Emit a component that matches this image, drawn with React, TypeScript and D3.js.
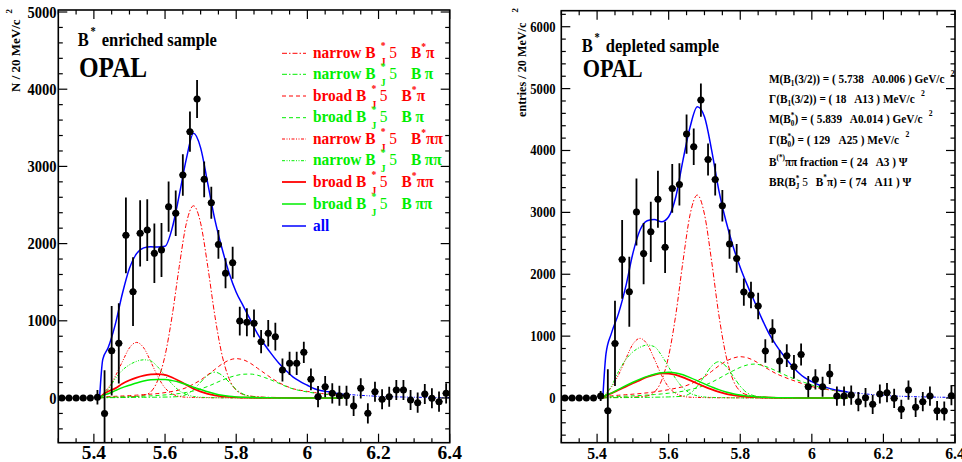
import React from "react";
import * as d3 from "d3";

// bin centres (20 MeV bins)
const binCentres = [
  5.31, 5.33, 5.35, 5.37, 5.39, 5.41, 5.43, 5.45, 5.47, 5.49,
  5.51, 5.53, 5.55, 5.57, 5.59, 5.61, 5.63, 5.65, 5.67, 5.69,
  5.71, 5.73, 5.75, 5.77, 5.79, 5.81, 5.83, 5.85, 5.87, 5.89,
  5.91, 5.93, 5.95, 5.97, 5.99, 6.01, 6.03, 6.05, 6.07, 6.09,
  6.11, 6.13, 6.15, 6.17, 6.19, 6.21, 6.23, 6.25, 6.27, 6.29,
  6.31, 6.33, 6.35, 6.37, 6.39,
];

// B* enriched sample
const enrCounts = [
  0, 0, 0, 0, 0, 10, -200, 613, 708, 2107,
  1377, 2133, 2176, 1874, 1917, 2478, 2392, 2889, 3450, 3873,
  2832, 2530, 1990, 1615, 1753, 997, 980, 967, 730, 838,
  794, 363, 449, 449, 592, 242, 17, 147, 60, 30,
  30, -104, 125, -199, 82, -17, 17, 104, 104, -26,
  -60, 52, -4, -47, 60,
];
const enrErrors = [
  0, 0, 0, 0, 0, 95, 560, 580, 520, 490,
  445, 430, 400, 385, 350, 325, 295, 270, 260, 246,
  230, 207, 186, 194, 207, 186, 181, 181, 150, 172,
  180, 150, 150, 150, 138, 140, 138, 138, 130, 130,
  130, 130, 130, 130, 130, 130, 130, 130, 130, 130,
  130, 130, 130, 130, 130,
];

// B* depleted sample
const depCounts = [
  0, 0, 0, 0, 0, 32, -205, 883, 2240, 1716,
  3006, 2334, 2685, 3212, 2435, 3387, 3452, 4265, 4060, 4814,
  3855, 3532, 3107, 2488, 2256, 1712, 1664, 1486, 759, 1082,
  598, 684, 506, 705, 183, 301, 183, 388, 32, 32,
  48, -59, 5, -102, 65, 86, -5, -183, 129, -151,
  -59, 32, -205, -210, 38,
];
const depErrors = [
  0, 0, 0, 0, 0, 80, 668, 690, 635, 565,
  540, 495, 485, 460, 415, 393, 340, 318, 296, 269,
  258, 258, 253, 236, 231, 221, 215, 215, 189, 189,
  177, 183, 189, 178, 172, 162, 162, 161, 155, 155,
  155, 155, 155, 155, 155, 155, 155, 155, 155, 155,
  155, 155, 155, 155, 155,
];

// sample points of the fitted curves
const curveGrid = [
  5.416, 5.425, 5.44, 5.46, 5.48, 5.5, 5.52, 5.54, 5.56, 5.58,
  5.6, 5.62, 5.64, 5.66, 5.68, 5.7, 5.72, 5.74, 5.76, 5.78,
  5.8, 5.82, 5.84, 5.86, 5.88, 5.9, 5.92, 5.94, 5.96, 5.98,
  6.0, 6.02, 6.04, 6.06, 6.08, 6.1,
];
const tailGrid = [6.1, 6.2, 6.3, 6.4];

const enrAll = [0, 500, 650, 950, 1350, 1680, 1870, 1945, 1960, 1955, 1965, 2200, 2630, 3100, 3428, 3240, 2780, 2310, 1940, 1620, 1370, 1190, 1010, 830, 690, 565, 450, 355, 270, 212, 165, 120, 95, 80, 62, 50];
const enrTail = [50, 22, 10, 5];
const enrNarrowBsPi = [0, 5, 8, 10, 12, 15, 20, 35, 80, 235, 550, 1065, 1705, 2265, 2490, 2265, 1705, 1065, 560, 250, 100, 45, 25, 15, 10, 8, 6, 5, 4, 3, 3, 2, 2, 2, 1, 1];
const enrNarrowBPi = [0, 3, 4, 5, 6, 7, 8, 9, 10, 11, 12, 14, 20, 45, 110, 205, 295, 335, 295, 205, 110, 50, 22, 12, 8, 6, 5, 4, 3, 3, 2, 2, 2, 1, 1, 1];
const enrBroadBsPi = [0, 15, 18, 22, 26, 31, 37, 44, 50, 58, 70, 85, 104, 135, 180, 233, 300, 370, 440, 490, 510, 495, 450, 385, 320, 255, 200, 155, 120, 100, 85, 70, 58, 48, 40, 33];
const enrBroadBPi = [0, 8, 10, 12, 14, 17, 20, 24, 28, 33, 40, 48, 58, 72, 92, 118, 150, 190, 230, 265, 292, 308, 310, 295, 265, 230, 190, 150, 118, 95, 78, 64, 52, 43, 36, 30];
const enrNarrowBsPiPi = [0, 50, 130, 280, 470, 650, 720, 650, 470, 275, 130, 55, 20, 10, 7, 5, 4, 3, 3, 2, 2, 2, 1, 1, 1, 1, 1, 1, 0, 0, 0, 0, 0, 0, 0, 0];
const enrNarrowBPiPi = [0, 40, 110, 250, 360, 430, 475, 495, 480, 400, 290, 180, 95, 45, 20, 10, 6, 4, 3, 2, 2, 1, 1, 1, 1, 1, 0, 0, 0, 0, 0, 0, 0, 0, 0, 0];
const enrBroadBsPiPi = [0, 40, 85, 125, 185, 230, 265, 290, 305, 310, 300, 265, 220, 170, 120, 82, 55, 35, 22, 14, 9, 6, 4, 3, 2, 1, 1, 1, 0, 0, 0, 0, 0, 0, 0, 0];
const enrBroadBPiPi = [0, 30, 55, 95, 135, 165, 195, 220, 235, 240, 240, 225, 205, 175, 140, 110, 80, 55, 35, 22, 14, 9, 6, 4, 3, 2, 1, 1, 0, 0, 0, 0, 0, 0, 0, 0];

const depAll = [0, 720, 1045, 1368, 1800, 2337, 2714, 2865, 2886, 2849, 2930, 3253, 3845, 4383, 4706, 4545, 4006, 3360, 2860, 2450, 2110, 1820, 1555, 1287, 1045, 856, 695, 549, 425, 328, 264, 210, 172, 140, 118, 97];
const depTail = [97, 42, 20, 10];
const depNarrowBsPi = [0, 5, 8, 10, 12, 15, 20, 35, 95, 280, 680, 1350, 2210, 2970, 3280, 2970, 2210, 1350, 690, 290, 110, 50, 28, 18, 12, 9, 7, 6, 5, 4, 3, 3, 2, 2, 2, 1];
const depNarrowBPi = [0, 4, 5, 6, 7, 8, 9, 11, 13, 15, 18, 22, 30, 75, 190, 355, 515, 587, 515, 355, 190, 80, 35, 18, 12, 9, 7, 6, 5, 4, 3, 3, 2, 2, 2, 1];
const depBroadBsPi = [0, 25, 35, 45, 53, 62, 72, 84, 98, 115, 135, 158, 183, 225, 280, 345, 430, 520, 595, 645, 668, 650, 600, 530, 460, 395, 345, 300, 260, 220, 185, 160, 140, 122, 105, 90];
const depBroadBPi = [0, 15, 20, 25, 30, 35, 41, 48, 56, 66, 78, 92, 110, 135, 165, 205, 255, 315, 380, 440, 495, 535, 549, 530, 490, 440, 385, 335, 290, 250, 210, 178, 150, 127, 108, 92];
const depNarrowBsPiPi = [0, 65, 175, 375, 630, 870, 964, 870, 630, 370, 175, 75, 27, 13, 9, 7, 5, 4, 4, 3, 3, 2, 2, 1, 1, 1, 1, 1, 0, 0, 0, 0, 0, 0, 0, 0];
const depNarrowBPiPi = [0, 70, 190, 430, 620, 745, 820, 856, 830, 690, 500, 310, 165, 78, 35, 17, 10, 7, 5, 3, 3, 2, 2, 2, 1, 1, 0, 0, 0, 0, 0, 0, 0, 0, 0, 0];
const depBroadBsPiPi = [0, 40, 75, 130, 185, 240, 290, 340, 375, 398, 395, 375, 335, 285, 235, 185, 140, 100, 68, 45, 30, 20, 13, 8, 5, 3, 2, 1, 1, 0, 0, 0, 0, 0, 0, 0];
const depBroadBPiPi = [0, 45, 80, 140, 200, 255, 305, 350, 385, 408, 415, 405, 375, 330, 280, 228, 180, 135, 98, 70, 48, 32, 21, 14, 9, 6, 4, 3, 2, 1, 1, 0, 0, 0, 0, 0];

const RED = "#ff0000";
const GREEN = "#00ee00";
const BLUE = "#0000ff";
const DASH_DOT = "5,2,1.5,2";
const DASH_DOT_DOT = "3,1.5,1,1.5,1,1.5";
const DASHED = "4,3";
const FONT = "'Liberation Serif', 'Times New Roman', serif";

// legend rows / component styles, same order as the curve arrays
const components = [
  { kind: "narrow", star: true, pions: "π", color: RED, dash: DASH_DOT, width: 1 },
  { kind: "narrow", star: false, pions: "π", color: GREEN, dash: DASH_DOT, width: 1 },
  { kind: "broad", star: true, pions: "π", color: RED, dash: DASHED, width: 1 },
  { kind: "broad", star: false, pions: "π", color: GREEN, dash: DASHED, width: 1 },
  { kind: "narrow", star: true, pions: "ππ", color: RED, dash: DASH_DOT_DOT, width: 1 },
  { kind: "narrow", star: false, pions: "ππ", color: GREEN, dash: DASH_DOT_DOT, width: 1 },
  { kind: "broad", star: true, pions: "ππ", color: RED, dash: undefined, width: 1.8 },
  { kind: "broad", star: false, pions: "ππ", color: GREEN, dash: undefined, width: 1.5 },
];
const enrCurves = [enrNarrowBsPi, enrNarrowBPi, enrBroadBsPi, enrBroadBPi, enrNarrowBsPiPi, enrNarrowBPiPi, enrBroadBsPiPi, enrBroadBPiPi];
const depCurves = [depNarrowBsPi, depNarrowBPi, depBroadBsPi, depBroadBPi, depNarrowBsPiPi, depNarrowBPiPi, depBroadBsPiPi, depBroadBPiPi];

const legendY = [53.3, 74.3, 96, 117.7, 139, 160.7, 182, 204, 226];

function T({ x, y, size, sx = 0.87, anchor = "start", weight = "bold", fill = "#000", rotate = 0, children }: any) {
  const tr = `translate(${x},${y})` + (rotate ? ` rotate(${rotate})` : "") + (sx !== 1 ? ` scale(${sx},1)` : "");
  return (
    <text transform={tr} fontSize={size} fontFamily={FONT} fontWeight={weight} textAnchor={anchor} fill={fill} style={{ whiteSpace: "pre" }}>
      {children}
    </text>
  );
}

function Panel({ id, x0, x1, y0, y1, yDomain, counts, errors, curves, all, tail, yFont, yLabelX, xFont, xSx, xBase }: any) {
  const x = d3.scaleLinear().domain([5.3, 6.4]).range([x0, x1]);
  const y = d3.scaleLinear().domain(yDomain).range([y1, y0]);
  const line = d3
    .line<number>()
    .x((_, i) => x(curveGrid[i]))
    .y((v) => y(v))
    .curve(d3.curveMonotoneX);
  const tailLine = d3
    .line<number>()
    .x((_, i) => x(tailGrid[i]))
    .y((v) => y(v))
    .curve(d3.curveMonotoneX);

  const xMajor = x.ticks(5);
  const xMinor = x.ticks(22).filter((t) => !xMajor.some((m) => Math.abs(m - t) < 1e-9));
  const yMajor = y.ticks(6);
  const yMinor = y.ticks(28).filter((t) => !yMajor.includes(t));
  const big = 9;
  const small = 4.5;

  return (
    <g>
      <defs>
        <clipPath id={id}>
          <rect x={x0} y={y0} width={x1 - x0} height={y1 - y0} />
        </clipPath>
      </defs>
      <g clipPath={`url(#${id})`} fill="none">
        {curves.map((vals: number[], k: number) => (
          <path
            key={k}
            d={line(vals) || ""}
            stroke={components[k].color}
            strokeWidth={components[k].width}
            strokeDasharray={components[k].dash}
          />
        ))}
        <path d={line(all) || ""} stroke={BLUE} strokeWidth={1.5} />
        <path d={tailLine(tail) || ""} stroke={BLUE} strokeWidth={1} strokeDasharray={DASH_DOT_DOT} />
        <g stroke="#000" strokeWidth={1.8}>
          {binCentres.map((b, i) => (
            <g key={i}>
              {errors[i] > 0 && <line x1={x(b)} x2={x(b)} y1={y(counts[i] - errors[i])} y2={y(counts[i] + errors[i])} />}
              <line x1={x(b - 0.01)} x2={x(b + 0.01)} y1={y(counts[i])} y2={y(counts[i])} strokeWidth={1.2} />
            </g>
          ))}
        </g>
        {binCentres.map((b, i) => (
          <circle key={i} cx={x(b)} cy={y(counts[i])} r={3.5} fill="#000" />
        ))}
      </g>
      <rect x={x0} y={y0} width={x1 - x0} height={y1 - y0} fill="none" stroke="#000" strokeWidth={1.6} />
      <g stroke="#000" strokeWidth={1.2}>
        {xMajor.concat(xMinor).map((t, i) => {
          const len = i < xMajor.length ? big : small;
          return (
            <g key={"x" + i}>
              <line x1={x(t)} x2={x(t)} y1={y1} y2={y1 - len} />
              <line x1={x(t)} x2={x(t)} y1={y0} y2={y0 + len} />
            </g>
          );
        })}
        {yMajor.concat(yMinor).map((t, i) => {
          const len = i < yMajor.length ? big : small;
          return (
            <g key={"y" + i}>
              <line x1={x0} x2={x0 + len} y1={y(t)} y2={y(t)} />
              <line x1={x1} x2={x1 - len} y1={y(t)} y2={y(t)} />
            </g>
          );
        })}
      </g>
      {xMajor.map((t, i) => (
        <T key={"xl" + i} x={x(t)} y={xBase} size={xFont} sx={xSx} anchor="middle">
          {String(+t.toFixed(1))}
        </T>
      ))}
      {yMajor
        .filter((t) => t >= 0)
        .map((t, i) => (
          <T key={"yl" + i} x={yLabelX} y={y(t) + yFont * 0.34} size={yFont} anchor="end">
            {String(t)}
          </T>
        ))}
    </g>
  );
}

function LegendLabel({ x, y, kind, star, pions, color }: any) {
  return (
    <T x={x} y={y} size={17.5} sx={0.88} fill={color}>
      {kind + " B"}
      <tspan fontSize={11} dx={6} dy={-9}>*</tspan>
      <tspan fontSize={11} dx={-5.5} dy={16}>J</tspan>
      <tspan fontWeight="normal" dx={4} dy={-7}>5</tspan>
      <tspan dx={16}>B</tspan>
      {star ? <tspan fontSize={11} dy={-8}>*</tspan> : null}
      <tspan dx={star ? 0 : 4} dy={star ? 8 : 0}>{pions}</tspan>
    </T>
  );
}

export default function App() {
  return (
    <svg width={962} height={462} style={{ position: "absolute", left: 0, top: 0, background: "#fff" }}>
      <rect width={962} height={462} fill="#fff" />
      <Panel
        id="clipL"
        x0={58.3}
        x1={449.7}
        y0={10}
        y1={442.7}
        yDomain={[-579, 5026]}
        counts={enrCounts}
        errors={enrErrors}
        curves={enrCurves}
        all={enrAll}
        tail={enrTail}
        yFont={16.7}
        yLabelX={56.5}
        xFont={19.5}
        xSx={1}
        xBase={459}
      />
      <Panel
        id="clipR"
        x0={561.3}
        x1={955}
        y0={10.7}
        y1={442.7}
        yDomain={[-722, 6259]}
        counts={depCounts}
        errors={depErrors}
        curves={depCurves}
        all={depAll}
        tail={depTail}
        yFont={14.5}
        yLabelX={555.5}
        xFont={17.5}
        xSx={0.9}
        xBase={458.5}
      />

      {/* axis titles */}
      <T x={20} y={92} size={13} sx={1} rotate={-90}>
        N / 20 MeV/c<tspan fontSize={9} dx={6} dy={-8}>2</tspan>
      </T>
      <T x={526} y={117} size={12.2} sx={1} rotate={-90}>
        entries / 20 MeV/c<tspan fontSize={9} dx={10} dy={-8}>2</tspan>
      </T>

      {/* left titles */}
      <T x={77.7} y={46} size={19}>
        B<tspan fontSize={12} dx={2} dy={-11}>*</tspan>
        <tspan dx={7} dy={11}>enriched sample</tspan>
      </T>
      <T x={79} y={76.7} size={29}>OPAL</T>

      {/* legend */}
      {components.map((c, i) => (
        <g key={i}>
          <line x1={282} x2={306} y1={legendY[i]} y2={legendY[i]} stroke={c.color} strokeWidth={c.width} strokeDasharray={c.dash} />
          <LegendLabel x={313} y={legendY[i] + 4.5} kind={c.kind} star={c.star} pions={c.pions} color={c.color} />
        </g>
      ))}
      <line x1={282} x2={306} y1={legendY[8]} y2={legendY[8]} stroke={BLUE} strokeWidth={1.5} />
      <T x={313} y={legendY[8] + 4.5} size={17.5} sx={0.88} fill={BLUE}>all</T>

      {/* right titles */}
      <T x={581.7} y={51.7} size={19}>
        B<tspan fontSize={12} dx={2} dy={-11}>*</tspan>
        <tspan dx={7} dy={11}>depleted sample</tspan>
      </T>
      <T x={582.7} y={76.7} size={25.5}>OPAL</T>

      {/* fit results */}
      <T x={769} y={82.7} size={12.5} sx={0.9}>
        M(B<tspan fontSize={8} dy={3}>1</tspan>
        <tspan dy={-3}>(3/2)) = ( 5.738   A0.006 ) GeV/c</tspan>
        <tspan fontSize={8.5} dx={7} dy={-7}>2</tspan>
      </T>
      <T x={769} y={103} size={12.5} sx={0.9}>
        Γ(B<tspan fontSize={8} dy={3}>1</tspan>
        <tspan dy={-3}>(3/2)) = ( 18   A13 ) MeV/c</tspan>
        <tspan fontSize={8.5} dx={7} dy={-7}>2</tspan>
      </T>
      <T x={769} y={123} size={12.5} sx={0.9}>
        M(B<tspan fontSize={8} dy={-5}>*</tspan>
        <tspan fontSize={8} dx={-4} dy={8}>0</tspan>
        <tspan dy={-3}>) = ( 5.839   A0.014 ) GeV/c</tspan>
        <tspan fontSize={8.5} dx={7} dy={-7}>2</tspan>
      </T>
      <T x={769} y={143.5} size={12.5} sx={0.9}>
        Γ(B<tspan fontSize={8} dy={-5}>*</tspan>
        <tspan fontSize={8} dx={-4} dy={8}>0</tspan>
        <tspan dy={-3}>) = ( 129   A25 ) MeV/c</tspan>
        <tspan fontSize={8.5} dx={7} dy={-7}>2</tspan>
      </T>
      <T x={769} y={165.5} size={12.5} sx={0.9}>
        B<tspan fontSize={8} dy={-6}>(*)</tspan>
        <tspan dy={6}>ππ fraction = ( 24   A3 ) Ψ</tspan>
      </T>
      <T x={769} y={186} size={12.5} sx={0.9}>
        BR(B<tspan fontSize={8} dy={-5}>*</tspan>
        <tspan fontSize={8} dx={-4} dy={8}>J</tspan>
        <tspan fontWeight="normal" dx={3} dy={-3}>5</tspan>
        <tspan dx={9}>B</tspan>
        <tspan fontSize={8} dy={-6}>*</tspan>
        <tspan dy={6}>π) = ( 74   A11 ) Ψ</tspan>
      </T>
    </svg>
  );
}
